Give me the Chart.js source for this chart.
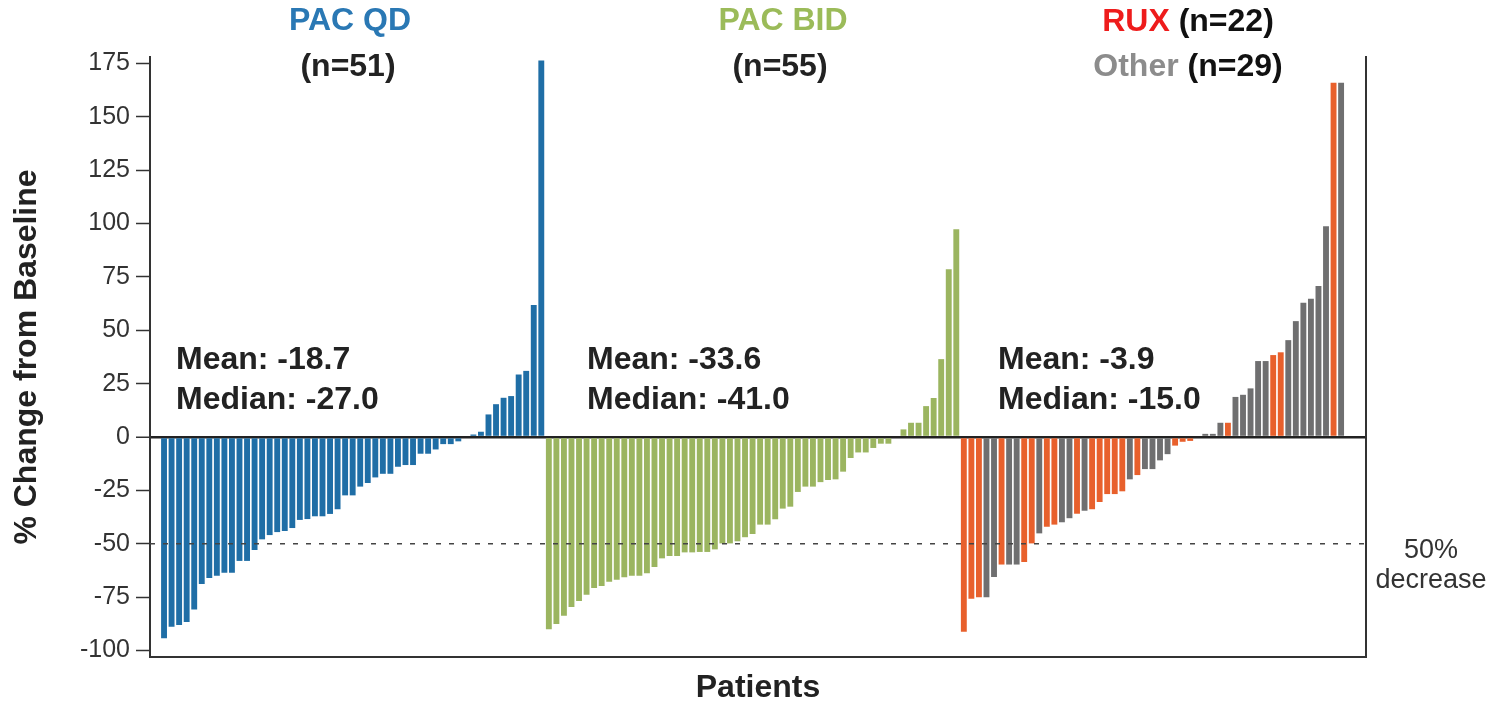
<!DOCTYPE html>
<html>
<head>
<meta charset="utf-8">
<script src="https://cdn.jsdelivr.net/npm/chart.js@4.4.1/dist/chart.umd.min.js"></script>
<style>
html,body{margin:0;padding:0;background:#fff;}
#wrap{width:1506px;height:706px;position:relative;}
</style>
</head>
<body>
<div id="wrap"><canvas id="c" width="1506" height="706"></canvas></div>
<script>
// ---------- DATA ----------
const groupNames = ['PAC QD', 'PAC BID', 'RUX', 'Other'];
const groupN = [51, 55, 22, 29];

const pacQD = [-94.2, -88.8, -88, -86.6, -80.8, -68.8, -66, -65, -63.5, -63.5,
  -58, -58, -52.9, -47.9, -45.9, -44.5, -44, -42.6, -38.8, -38.4,
  -37.1, -37.1, -36, -33.8, -27.3, -27.3, -23.2, -21.5, -18.9, -17.2,
  -17.2, -13.9, -13.1, -13.1, -7.8, -7.8, -5.8, -3.3, -3.3, -2,
  0, 1.2, 2.5, 10.6, 15.4, 18.4, 19.2, 29.3, 31, 61.8, 176.4];

const pacBID = [-90, -87.5, -83.7, -79.6, -76.8, -73.8, -70.7, -69.8, -67.7, -66.8,
  -65.7, -64.9, -64.9, -63.8, -60.8, -56.8, -55.7, -55.7, -54, -54,
  -53.8, -53.8, -52.6, -49.8, -49.8, -48.8, -46.9, -45.4, -41, -41,
  -38.5, -33.5, -32.6, -25.7, -23.2, -23.2, -21.1, -20.1, -19.8, -16.2,
  -9.8, -7.2, -7.2, -5.1, -3.1, -3.1, 0, 3.6, 6.7, 6.7,
  14.5, 18.3, 36.5, 78.6, 97.3];

const ruxOther = [-91.2, -75.7, -75, -75, -65.5, -59.7, -59.7, -59.7, -58.5, -49.8,
  -45.1, -42, -41, -39.9, -38, -35.9, -34.5, -33.8, -30.4, -26.7,
  -26.7, -25.4, -19.8, -17.8, -15, -15, -10.9, -8, -4, -2.2,
  -1.8, 0, 1.5, 1.5, 6.7, 6.7, 18.8, 19.8, 22.8, 35.6,
  35.6, 38.4, 39.7, 45.4, 54.3, 62.9, 64.8, 70.8, 98.7, 165.9, 165.9];
const ruxOtherGroup = ['R','R','R','O','O','R','O','O','R','R',
  'O','R','R','O','O','R','O','R','R','R',
  'R','R','O','R','O','O','O','O','R','R',
  'R','O','O','O','O','R','O','O','O','O',
  'O','R','R','O','O','O','O','O','O','R','O'];

const yTicks = [-100, -75, -50, -25, 0, 25, 50, 75, 100, 125, 150, 175];
const refLine = -50;
const stats = [['Mean: -18.7', 'Median: -27.0'], ['Mean: -33.6', 'Median: -41.0'], ['Mean: -3.9', 'Median: -15.0']];

// ---------- STYLE ----------
const COL = {qd:'#1f6ea6', bid:'#9bb560', rux:'#e8602c', other:'#6f6f70',
  tQD:'#2a78b4', tBID:'#9bbb59', tRUX:'#ee1c1c', tOther:'#8c8c8c', text:'#222'};
const FONT = "'Liberation Sans', Arial, Helvetica, sans-serif";

// ---------- build datasets ----------
let idx = 0;
const qdData = pacQD.map(v => ({x: idx++, y: v}));
const bidData = pacBID.map(v => ({x: idx++, y: v}));
const ruxData = [], otherData = [];
ruxOther.forEach((v, i) => {
  const p = {x: idx++, y: v};
  (ruxOtherGroup[i] === 'R' ? ruxData : otherData).push(p);
});
const nBars = idx;

const barCommon = {grouped: false, barPercentage: 0.78, categoryPercentage: 1, borderWidth: 0};

const annot = {
  id: 'annot',
  afterDatasetsDraw(chart) {
    const {ctx, chartArea: a, scales: {y}} = chart;
    const yy = y.getPixelForValue(refLine);
    ctx.save();
    ctx.setLineDash([5, 8]);
    ctx.strokeStyle = '#444';
    ctx.lineWidth = 1.5;
    ctx.beginPath(); ctx.moveTo(a.left, yy); ctx.lineTo(a.right, yy); ctx.stroke();
    ctx.restore();
  },
  afterDraw(chart) {
    const {ctx, scales: {y}} = chart;
    ctx.save();
    ctx.textBaseline = 'middle';
    const bold = "bold 32px " + FONT;
    function parts(cx, cy, segs) {
      ctx.font = bold;
      const w = segs.reduce((s, g) => s + ctx.measureText(g[0]).width, 0);
      let x = cx - w / 2;
      ctx.textAlign = 'left';
      segs.forEach(g => { ctx.fillStyle = g[1]; ctx.fillText(g[0], x, cy); x += ctx.measureText(g[0]).width; });
    }
    parts(350, 21, [[groupNames[0], COL.tQD]]);
    parts(348, 67, [['(n=' + groupN[0] + ')', COL.text]]);
    parts(783, 21, [[groupNames[1], COL.tBID]]);
    parts(780, 67, [['(n=' + groupN[1] + ')', COL.text]]);
    parts(1188, 22, [[groupNames[2], COL.tRUX], [' (n=' + groupN[2] + ')', '#111']]);
    parts(1188, 67, [[groupNames[3], COL.tOther], [' (n=' + groupN[3] + ')', '#111']]);

    ctx.font = bold; ctx.fillStyle = COL.text; ctx.textAlign = 'left';
    const sx = [176, 587, 998];
    stats.forEach((s, i) => {
      ctx.fillText(s[0], sx[i], 360);
      ctx.fillText(s[1], sx[i], 400);
    });

    ctx.font = "27px " + FONT; ctx.fillStyle = '#333'; ctx.textAlign = 'center';
    const yy = y.getPixelForValue(refLine);
    ctx.fillText('50%', 1431, yy + 7);
    ctx.fillText('decrease', 1431, yy + 37);
    ctx.restore();
  }
};

const yMin = -103, yMax = 178;

new Chart(document.getElementById('c'), {
  type: 'bar',
  data: {
    datasets: [
      Object.assign({label: groupNames[0], data: qdData, backgroundColor: COL.qd}, barCommon),
      Object.assign({label: groupNames[1], data: bidData, backgroundColor: COL.bid}, barCommon),
      Object.assign({label: groupNames[2], data: ruxData, backgroundColor: COL.rux}, barCommon),
      Object.assign({label: groupNames[3], data: otherData, backgroundColor: COL.other}, barCommon)
    ]
  },
  options: {
    responsive: false,
    animation: false,
    devicePixelRatio: 1,
    layout: {padding: {top: 57, left: 0, right: 0, bottom: 0}},
    plugins: {legend: {display: false}, tooltip: {enabled: false}},
    scales: {
      x: {
        type: 'linear',
        offset: false,
        min: -1.86,
        max: nBars - 1 + 3.3,
        ticks: {display: false},
        grid: {display: false, offset: false},
        border: {display: true, color: '#333', width: 2},
        title: {display: true, text: 'Patients', color: COL.text,
          font: {family: FONT, size: 32, weight: 'bold', lineHeight: 1.1}, padding: {top: 0, bottom: 0}},
        afterFit(s) { s.height = 49; }
      },
      y: {
        position: 'left',
        min: yMin, max: yMax,
        afterBuildTicks(s) { s.ticks = yTicks.map(v => ({value: v})); },
        ticks: {color: '#333', font: {family: FONT, size: 25}, padding: 6},
        grid: {
          drawOnChartArea: true,
          color: c => (c.tick && c.tick.value === 0) ? '#222' : 'rgba(0,0,0,0)',
          lineWidth: c => (c.tick && c.tick.value === 0) ? 2.5 : 1,
          tickColor: '#333', tickLength: 14, tickWidth: 1.5, drawTicks: true
        },
        border: {display: true, color: '#333', width: 2},
        title: {display: true, text: '% Change from Baseline', color: COL.text,
          font: {family: FONT, size: 32, weight: 'bold', lineHeight: 1.2}, padding: {top: 8, bottom: 0}},
        afterFit(s) { s.width = 150; }
      },
      y2: {
        position: 'right',
        min: yMin, max: yMax,
        ticks: {display: false},
        grid: {display: false},
        border: {display: true, color: '#333', width: 2},
        afterFit(s) { s.width = 140; }
      }
    }
  },
  plugins: [annot]
});
</script>
</body>
</html>
